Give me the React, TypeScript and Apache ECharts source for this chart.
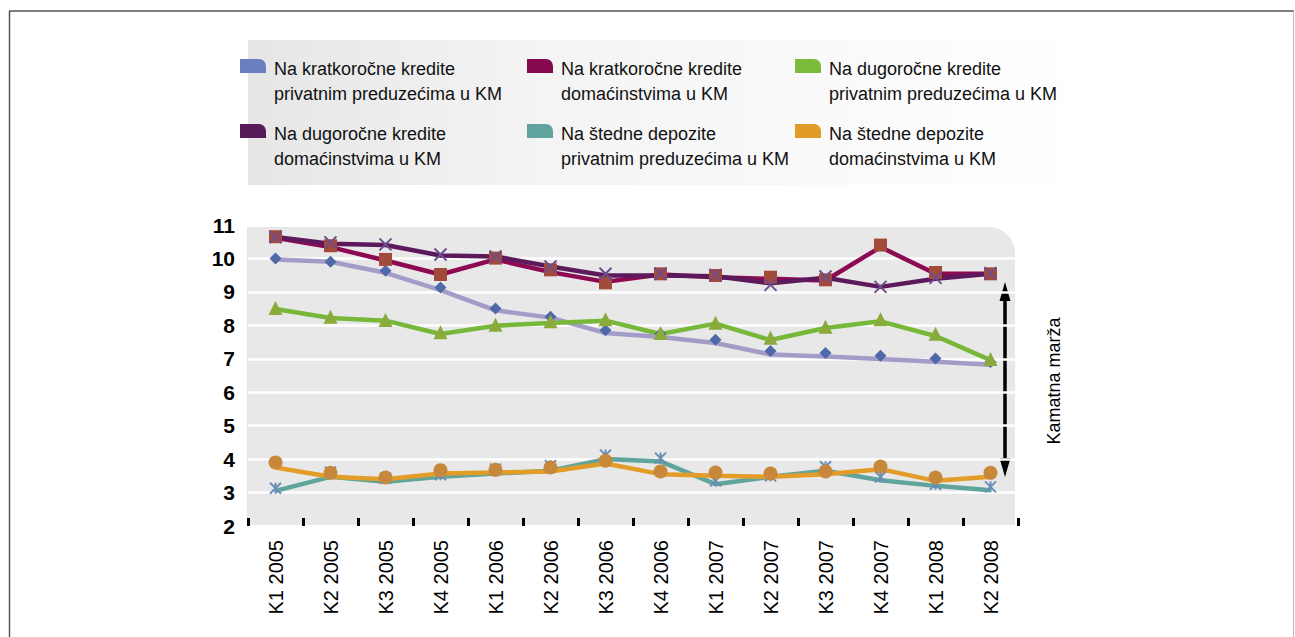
import React, { useEffect, useRef } from "react";
import * as echarts from "echarts";

const categories = ["K1 2005", "K2 2005", "K3 2005", "K4 2005", "K1 2006", "K2 2006", "K3 2006", "K4 2006", "K1 2007", "K2 2007", "K3 2007", "K4 2007", "K1 2008", "K2 2008"];

const yTicks = [2, 3, 4, 5, 6, 7, 8, 9, 10, 11];

const seriesNames = [
  "Na kratkoročne kredite\nprivatnim preduzećima u KM",
  "Na kratkoročne kredite\ndomaćinstvima u KM",
  "Na dugoročne kredite\nprivatnim preduzećima u KM",
  "Na dugoročne kredite\ndomaćinstvima u KM",
  "Na štedne depozite\nprivatnim preduzećima u KM",
  "Na štedne depozite\ndomaćinstvima u KM",
];

// line values
const kratkPrivLine = [9.97, 9.9, 9.57, 9.05, 8.45, 8.23, 7.77, 7.65, 7.47, 7.13, 7.07, 6.99, 6.91, 6.82];
const kratkDomLine = [10.62, 10.34, 9.94, 9.52, 9.97, 9.59, 9.3, 9.52, 9.44, 9.39, 9.34, 10.34, 9.54, 9.54];
const dugPrivLine = [8.49, 8.22, 8.14, 7.74, 7.99, 8.07, 8.14, 7.74, 8.05, 7.56, 7.92, 8.12, 7.68, 6.96];
const dugDomLine = [10.64, 10.44, 10.4, 10.09, 10.06, 9.76, 9.49, 9.49, 9.47, 9.26, 9.42, 9.15, 9.39, 9.54];
const stedPrivLine = [3.05, 3.47, 3.32, 3.47, 3.57, 3.65, 4.0, 3.93, 3.25, 3.47, 3.65, 3.37, 3.2, 3.07];
const stedDomLine = [3.75, 3.47, 3.4, 3.57, 3.6, 3.63, 3.87, 3.55, 3.5, 3.47, 3.55, 3.7, 3.35, 3.47];

// marker values
const kratkPrivMarks = [10.0, 9.9, 9.63, 9.13, 8.5, 8.26, 7.85, 7.75, 7.57, 7.23, 7.17, 7.09, 7.01, 6.9];
const kratkDomMarks = [10.65, 10.38, 9.97, 9.52, 10.01, 9.66, 9.27, 9.54, 9.49, 9.44, 9.36, 10.4, 9.58, 9.54];
const dugPrivMarks = [8.52, 8.26, 8.16, 7.79, 8.02, 8.12, 8.18, 7.77, 8.08, 7.63, 7.96, 8.18, 7.75, 6.99];
const dugDomMarks = [10.64, 10.48, 10.42, 10.12, 10.06, 9.76, 9.54, 9.54, 9.51, 9.21, 9.46, 9.15, 9.42, 9.56];
const stedPrivMarks = [3.13, 3.61, 3.43, 3.53, 3.7, 3.8, 4.12, 4.03, 3.35, 3.5, 3.77, 3.47, 3.25, 3.17];
const stedDomMarks = [3.9, 3.59, 3.45, 3.67, 3.68, 3.75, 3.95, 3.63, 3.6, 3.57, 3.63, 3.78, 3.45, 3.59];

const lineColors = ["#a39cc9", "#8c0a52", "#77b83a", "#5c1a5c", "#5fa59c", "#e39c27"];
const legendColors = ["#6b7fbf", "#86094f", "#7bbb3b", "#581b5a", "#5fa39c", "#e19b27"];
const markColors = ["#4f68a8", "#a24a3c", "#8aaa3c", "#6e4d8f", "#6a8db5", "#c8883c"];

const FONT = '"Liberation Sans", Arial, sans-serif';

export default function App() {
  const ref = useRef<HTMLDivElement>(null);
  useEffect(() => {
    if (!ref.current) return;
    const chart = echarts.init(ref.current, undefined, { renderer: "svg" });
    const lines = [kratkPrivLine, kratkDomLine, dugPrivLine, dugDomLine, stedPrivLine, stedDomLine];
    const marks = [kratkPrivMarks, kratkDomMarks, dugPrivMarks, dugDomMarks, stedPrivMarks, stedDomMarks];
    const crossPath = "path://M0,0L10,10M10,0L0,10";
    const starPath = "path://M0,0L10,10M10,0L0,10M5,0L5,10";
    const symbols: any[] = ["diamond", "rect", "triangle", crossPath, starPath, "circle"];
    const symbolSizes = [12, 13, 14, 12, 11, 14];

    const series: any[] = [];
    lines.forEach((d, i) => {
      series.push({
        name: seriesNames[i],
        type: "line",
        data: d,
        showSymbol: false,
        symbol: "none",
        lineStyle: { color: lineColors[i], width: 4.5 },
        itemStyle: { color: lineColors[i] },
        z: 2,
      });
    });
    marks.forEach((d, i) => {
      const stroked = i === 3 || i === 4;
      series.push({
        name: seriesNames[i] + " ",
        type: "scatter",
        data: d,
        symbol: symbols[i],
        symbolSize: symbolSizes[i],
        itemStyle: stroked
          ? { color: "none", borderColor: markColors[i], borderWidth: 2, opacity: 1 }
          : { color: markColors[i], opacity: 1 },
        z: 3,
      });
    });

    const graphic: any[] = [
      // page frame
      { type: "line", shape: { x1: 9, y1: 11, x2: 1294, y2: 11 }, style: { stroke: "#555", lineWidth: 1.5 } },
      { type: "line", shape: { x1: 9.5, y1: 11, x2: 9.5, y2: 637 }, style: { stroke: "#555", lineWidth: 1.5 } },
      { type: "line", shape: { x1: 1293.5, y1: 11, x2: 1293.5, y2: 637 }, style: { stroke: "#bbb", lineWidth: 1 } },
      // legend background
      {
        type: "rect",
        z: -20,
        shape: { x: 248, y: 40, width: 840, height: 145 },
        style: {
          fill: new echarts.graphic.LinearGradient(0, 0, 1, 0, [
            { offset: 0, color: "#e6e6e6" },
            { offset: 0.35, color: "#f4f4f4" },
            { offset: 1, color: "#ffffff" },
          ]),
        },
      },
      // plot background
      {
        type: "rect",
        z: -10,
        shape: { x: 247, y: 227, width: 768, height: 298, r: [0, 26, 0, 0] },
        style: { fill: "#e8e8e8" },
      },
      // arrow
      { type: "line", shape: { x1: 1005, y1: 296, x2: 1005, y2: 462 }, style: { stroke: "#000", lineWidth: 3.5 } },
      { type: "polygon", shape: { points: [[1005, 282], [999.5, 301], [1010.5, 301]] }, style: { fill: "#000" } },
      { type: "polygon", shape: { points: [[1005, 477], [999.5, 458], [1010.5, 458]] }, style: { fill: "#000" } },
      {
        type: "text",
        x: 1054,
        y: 381,
        rotation: Math.PI / 2,
        style: { text: "Kamatna marža", font: `18px ${FONT}`, fill: "#000", align: "center", verticalAlign: "middle" },
      },
    ];

    const iconX = [240, 527, 795];
    const rowY = [59, 124];
    seriesNames.forEach((n, i) => {
      const col = i % 3;
      const row = Math.floor(i / 3);
      graphic.push({
        type: "rect",
        shape: { x: iconX[col], y: rowY[row], width: 26, height: 14, r: [0, 7, 0, 0] },
        style: { fill: legendColors[i] },
      });
      graphic.push({
        type: "text",
        x: iconX[col] + 34,
        y: rowY[row] - 3,
        style: { text: n, font: `18px ${FONT}`, lineHeight: 25, fill: "#111", verticalAlign: "top" },
      });
    });

    chart.setOption({
      animation: false,
      backgroundColor: "#fff",
      textStyle: { fontFamily: FONT },
      grid: { left: 248, right: 277, top: 225, height: 301, containLabel: false },
      xAxis: {
        type: "category",
        data: categories,
        boundaryGap: true,
        axisLine: { show: false },
        axisTick: { show: true, inside: true, length: 8, lineStyle: { color: "#000", width: 3 } },
        axisLabel: { rotate: 90, fontSize: 20, color: "#000", margin: 14, fontFamily: FONT },
        splitLine: { show: false },
      },
      yAxis: {
        type: "value",
        min: yTicks[0],
        max: yTicks[yTicks.length - 1],
        interval: 1,
        axisLine: { show: false },
        axisTick: { show: false },
        axisLabel: { fontSize: 21, fontWeight: "bold", color: "#000", margin: 13, fontFamily: FONT },
        splitLine: { show: true, lineStyle: { color: "#ffffff", width: 2.5 } },
      },
      series,
      graphic,
    });
    return () => chart.dispose();
  }, []);
  return <div ref={ref} style={{ position: "fixed", left: 0, top: 0, width: 1295, height: 637 }} />;
}
